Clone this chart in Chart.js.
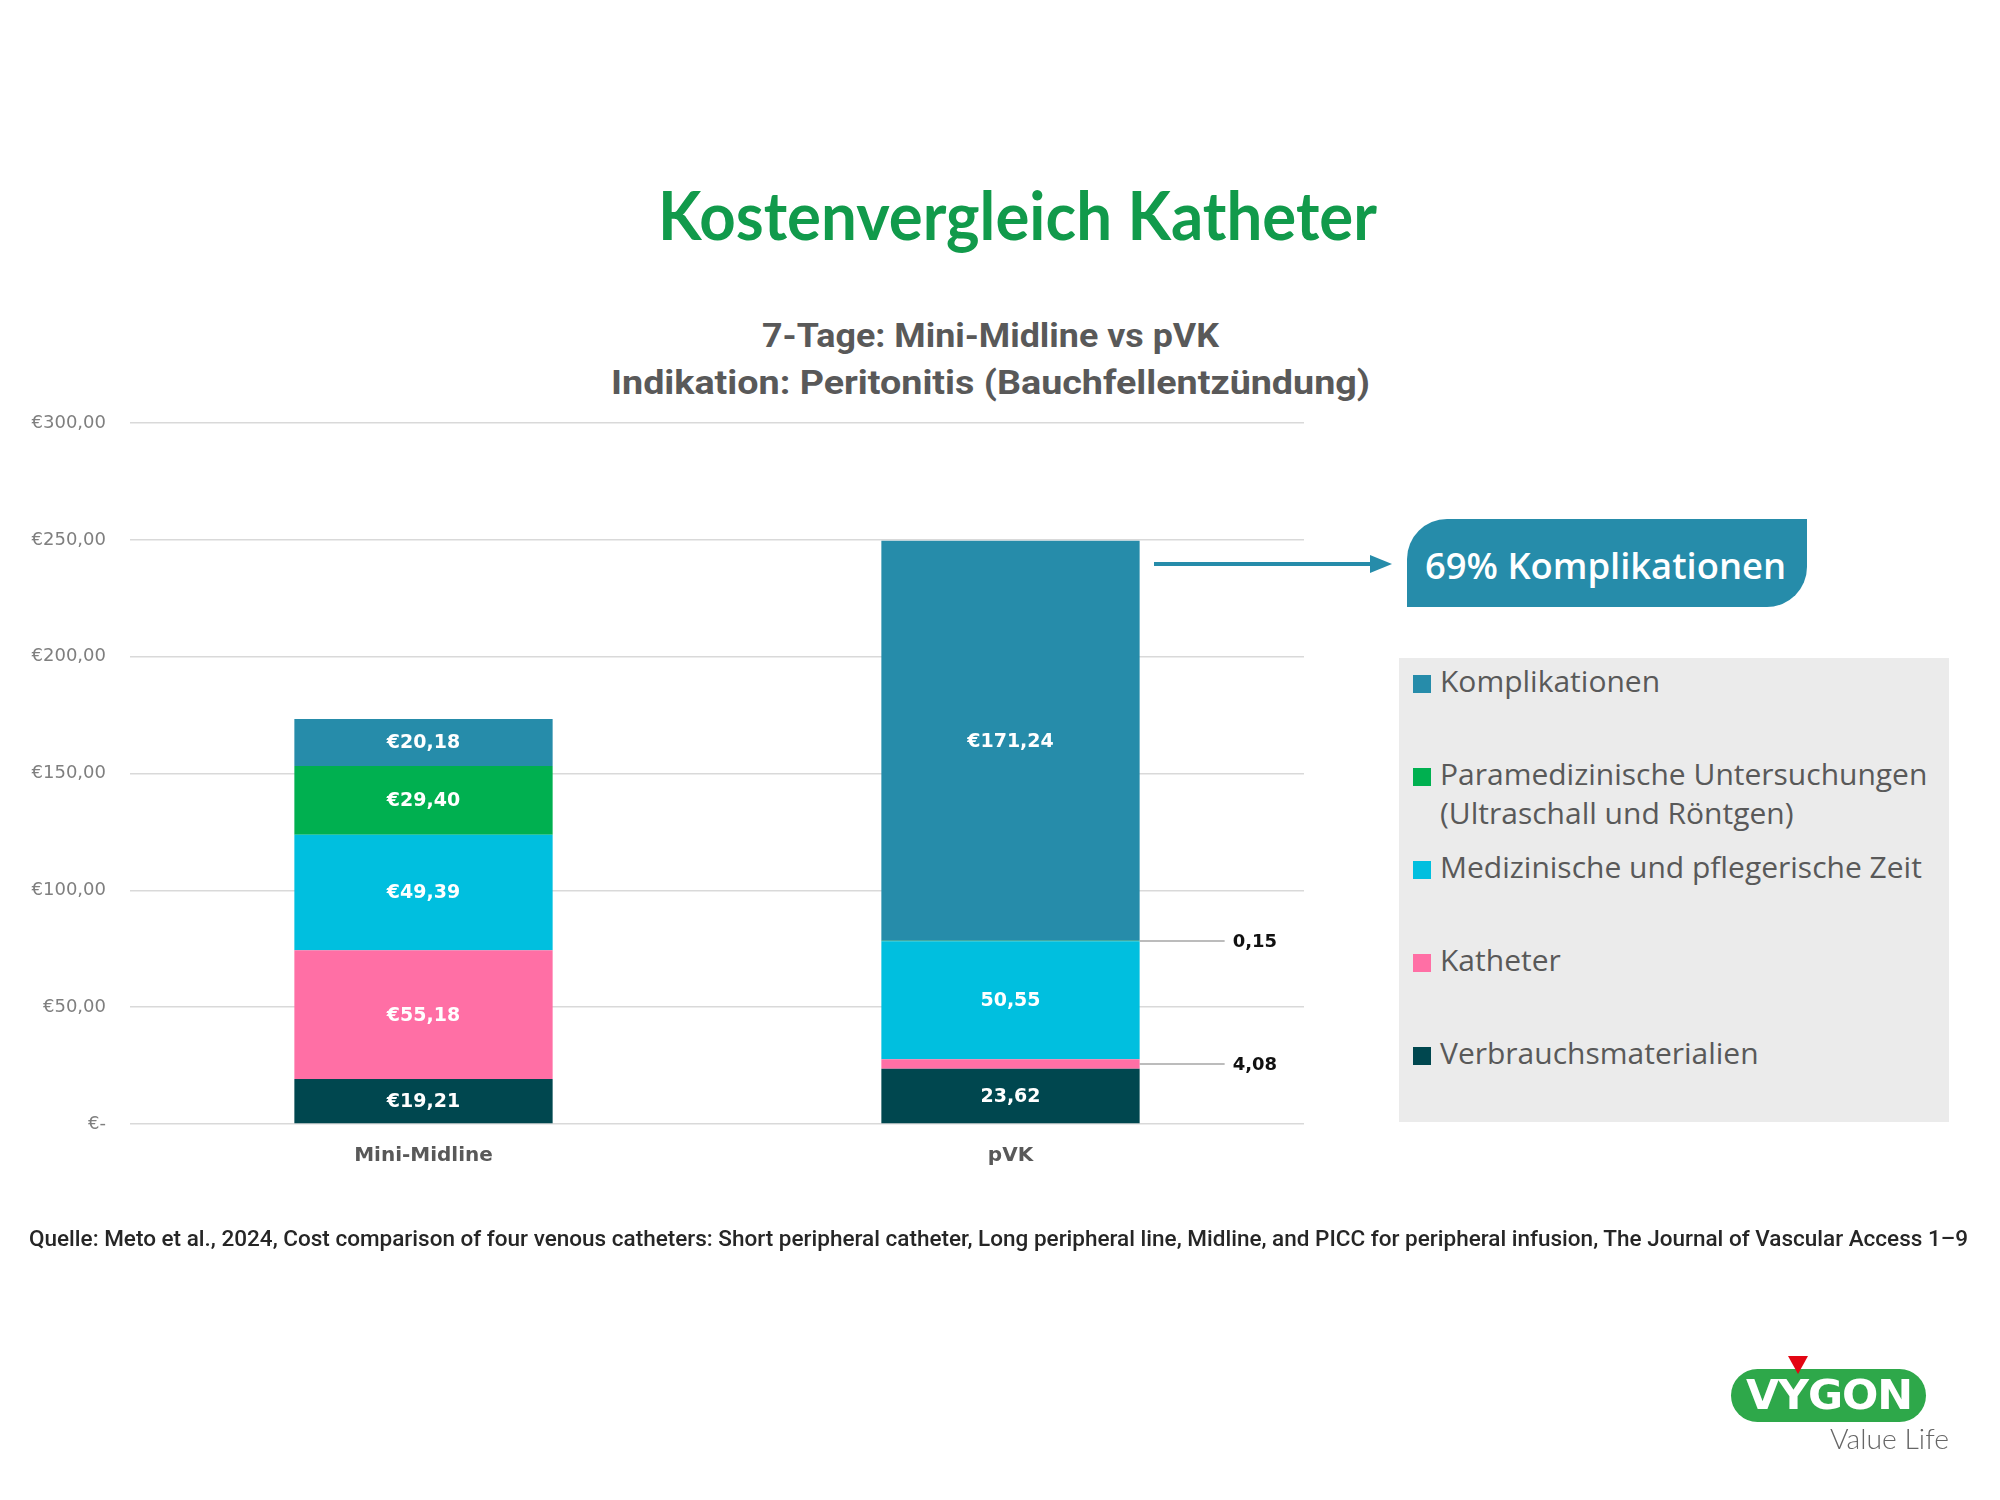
<!DOCTYPE html>
<html>
<head>
<meta charset="utf-8">
<script src="https://cdn.jsdelivr.net/npm/chart.js@4.4.1/dist/chart.umd.min.js"></script>
<style>
  body { margin: 0; background: #fff; }
  #page { position: relative; width: 2000px; height: 1500px; overflow: hidden; background: #fff; }
  .abs { position: absolute; white-space: nowrap; line-height: 1; transform-origin: left top; }
  #title { font-family: Lato, sans-serif; font-weight: 700; font-size: 66px; color: #119a4b; }
  .sub { font-family: Roboto, sans-serif; font-weight: 700; font-size: 33px; color: #595959; }
  #chartBox { position: absolute; left: 0; top: 380px; width: 1320px; height: 820px; }
  #callout { position: absolute; left: 1407px; top: 519px; width: 400px; height: 88px; background: #268caa;
             border-radius: 40px 0 40px 0; }
  #calloutText { font-family: 'Open Sans', sans-serif; font-weight: 600; font-size: 36px; color: #fff; }
  #legendBox { position: absolute; left: 1399px; top: 658px; width: 550px; height: 464px; background: #ebebeb; }
  .legText { font-family: 'Open Sans', sans-serif; font-size: 30px; color: #595959; line-height: 39px; white-space: pre; }
  .legSwatch { position: absolute; width: 18px; height: 18px; }
  #source { font-family: Roboto, sans-serif; font-weight: 500; font-size: 22px; color: #262626; }
  #logoPill { position: absolute; left: 1731px; top: 1369px; width: 195px; height: 53px; background: #2ea84a; border-radius: 27px; }
  #logoText { font-family: 'DejaVu Sans', sans-serif; font-weight: 700; font-size: 40px; color: #fff; letter-spacing: -1px; }
  #logoTri { position: absolute; left: 1788px; top: 1356px; width: 0; height: 0;
             border-left: 10px solid transparent; border-right: 10px solid transparent; border-top: 18px solid #e30613; }
  #logoSub { font-family: Lato, sans-serif; font-weight: 300; font-size: 27px; color: #666; }
</style>
</head>
<body>
<div id="page">
  <div id="title" class="abs">Kostenvergleich Katheter</div>
  <div id="sub1" class="abs sub">7-Tage: Mini-Midline vs pVK</div>
  <div id="sub2" class="abs sub">Indikation: Peritonitis (Bauchfellentzündung)</div>

  <div id="chartBox"><canvas id="chart"></canvas></div>

  <svg style="position:absolute;left:0;top:0" width="2000" height="1500">
    <line x1="1154" y1="564" x2="1375" y2="564" stroke="#268caa" stroke-width="4"/>
    <polygon points="1392,564 1370,555 1370,573" fill="#268caa"/>
  </svg>

  <div id="callout"></div>
  <div id="calloutText" class="abs">69% Komplikationen</div>

  <div id="legendBox"></div>
  <div id="legend"></div>

  <div id="source" class="abs">Quelle: Meto et al., 2024, Cost comparison of four venous catheters: Short peripheral catheter, Long peripheral line, Midline, and PICC for peripheral infusion, The Journal of Vascular Access 1–9</div>

  <div id="logoPill"></div>
  <div id="logoText" class="abs">VYGON</div>
  <div id="logoTri"></div>
  <div id="logoSub" class="abs">Value Life</div>
</div>

<script>
// ---- data ----
var categories = ['Mini-Midline', 'pVK'];
var seriesNames = ['Verbrauchsmaterialien', 'Katheter', 'Medizinische und pflegerische Zeit',
                   'Paramedizinische Untersuchungen\n(Ultraschall und Röntgen)', 'Komplikationen'];
var verbrauch    = [19.21, 23.62];
var katheter     = [55.18, 4.08];
var medizinisch  = [49.39, 50.55];
var paramedizin  = [29.40, 0.15];
var komplikation = [20.18, 171.24];
// which segment labels carry the euro sign, per category
var euroMini = [true, true, true, true, true];
var euroPvk  = [false, false, false, false, true];
var yTicks = [0, 50, 100, 150, 200, 250, 300];

var colors = ['#00474f', '#ff6fa5', '#00bfdf', '#00b050', '#268caa'];

function place(id, x, y, w, align) {
    var el = document.getElementById(id);
    var nat = el.getBoundingClientRect().width;
    var s = w ? w / nat : 1;
    var width = nat * s;
    var left = align === 'center' ? x - width / 2 : x;
    el.style.left = left + 'px';
    el.style.top = y + 'px';
    el.style.transform = 'scaleX(' + s + ')';
}

place('title', 1017, 182, 719, 'center');
place('sub1', 990, 319, 457, 'center');
place('sub2', 990, 366, 759, 'center');
place('calloutText', 1425, 548, 361);
place('source', 29, 1228, 1939);
place('logoText', 1746, 1375, 166);
place('logoSub', 1830, 1425, 119);

// legend (top to bottom = reverse stacking order)
var legendTops = [667, 760, 853, 946, 1039];
var legend = document.getElementById('legend');
for (var k = 0; k < seriesNames.length; k++) {
    var idx = seriesNames.length - 1 - k;
    var sw = document.createElement('div');
    sw.className = 'legSwatch';
    sw.style.background = colors[idx];
    sw.style.left = '1413px';
    sw.style.top = (legendTops[k] + 8) + 'px';
    legend.appendChild(sw);
    var t = document.createElement('div');
    t.className = 'abs legText';
    t.style.left = '1440px';
    t.style.top = (legendTops[k] - 6) + 'px';
    t.textContent = seriesNames[idx];
    legend.appendChild(t);
}

function fmt(v) { return v.toFixed(2).replace('.', ','); }

var seriesData = [verbrauch, katheter, medizinisch, paramedizin, komplikation];

var segmentLabels = {
    id: 'segmentLabels',
    afterDatasetsDraw: function(chart) {
        var ctx = chart.ctx;
        ctx.save();
        chart.data.datasets.forEach(function(ds, di) {
            var meta = chart.getDatasetMeta(di);
            meta.data.forEach(function(bar, i) {
                var v = ds.data[i];
                var euro = (i === 0 ? euroMini : euroPvk)[di];
                var text = (euro ? '€' : '') + fmt(v);
                var yMid = (bar.y + bar.base) / 2;
                if (v >= 10) {
                    ctx.font = 'bold 19px "DejaVu Sans"';
                    ctx.fillStyle = '#ffffff';
                    ctx.textAlign = 'center';
                    ctx.textBaseline = 'middle';
                    ctx.fillText(text, bar.x, yMid + 1);
                } else {
                    var x0 = bar.x + bar.width / 2;
                    ctx.strokeStyle = '#a6a6a6';
                    ctx.lineWidth = 1.5;
                    ctx.beginPath();
                    ctx.moveTo(x0, yMid);
                    ctx.lineTo(x0 + 85, yMid);
                    ctx.stroke();
                    ctx.font = 'bold 18px "DejaVu Sans"';
                    ctx.fillStyle = '#111111';
                    ctx.textAlign = 'left';
                    ctx.textBaseline = 'middle';
                    ctx.fillText(text, x0 + 93, yMid + 1);
                }
            });
        });
        ctx.restore();
    }
};

new Chart(document.getElementById('chart'), {
    type: 'bar',
    data: {
        labels: categories,
        datasets: seriesData.map(function(d, i) {
            return {
                label: seriesNames[i],
                data: d,
                backgroundColor: colors[i],
                borderWidth: 0,
                barPercentage: 0.88,
                categoryPercentage: 0.5
            };
        })
    },
    options: {
        responsive: true,
        maintainAspectRatio: false,
        animation: false,
        layout: { padding: { left: 0, right: 16, top: 43, bottom: 12 } },
        plugins: { legend: { display: false }, tooltip: { enabled: false } },
        scales: {
            x: {
                stacked: true,
                grid: { display: false, drawTicks: false },
                border: { display: false },
                ticks: { font: { family: 'DejaVu Sans', size: 20, weight: 'bold' }, color: '#595959', padding: 20 }
            },
            y: {
                stacked: true,
                min: 0,
                max: 300,
                afterBuildTicks: function(scale) {
                    scale.ticks = yTicks.map(function(v) { return { value: v }; });
                },
                afterFit: function(scale) { scale.width = 130; },
                grid: { color: '#d9d9d9', lineWidth: 1.5, drawTicks: false },
                border: { display: false },
                ticks: {
                    font: { family: 'DejaVu Sans', size: 18 },
                    color: '#7f7f7f',
                    padding: 24,
                    callback: function(v) { return v === 0 ? '€-' : '€' + fmt(v); }
                }
            }
        }
    },
    plugins: [segmentLabels]
});
</script>
</body>
</html>
